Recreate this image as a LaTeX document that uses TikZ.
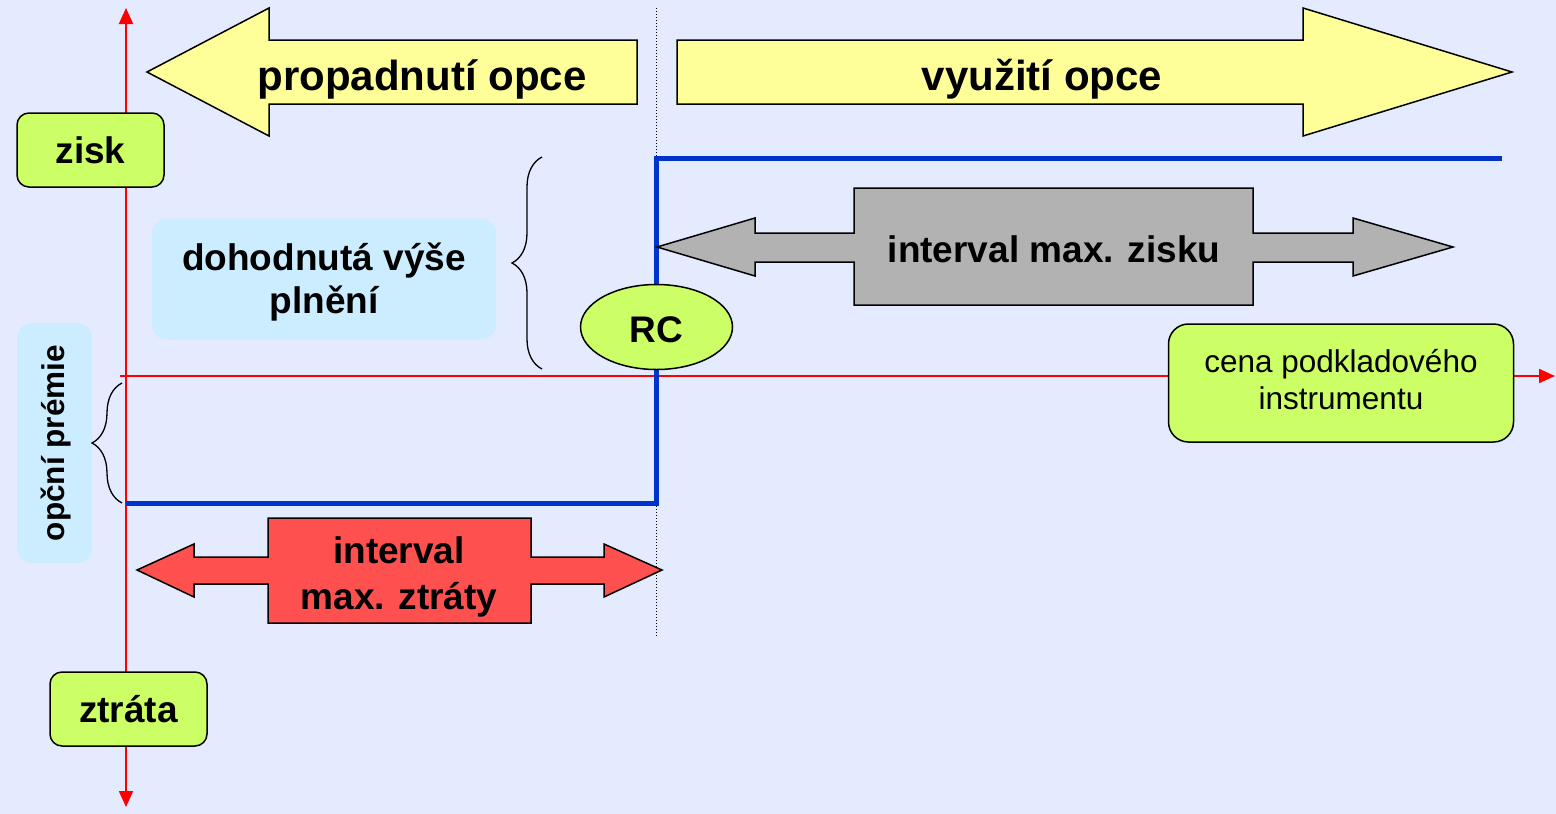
\documentclass[tikz,border=0pt]{standalone}
\usepackage{fontspec}
\setmainfont{Liberation Sans}
\usetikzlibrary{arrows.meta,shapes.geometric,decorations.pathreplacing}

\definecolor{bgblue}{RGB}{229,235,254}
\definecolor{paleyellow}{RGB}{255,255,153}
\definecolor{limegreen}{RGB}{204,255,102}
\definecolor{paleblue}{RGB}{204,236,255}
\definecolor{midgray}{RGB}{178,178,178}
\definecolor{lossred}{RGB}{255,80,80}
\definecolor{payoffblue}{RGB}{0,51,204}
\definecolor{axisred}{RGB}{255,0,0}

\tikzset{
  blockarrow/.style={draw=black, line width=1.5pt, line join=miter},
  axisline/.style={draw=axisred, line width=2pt, -{Triangle[length=16pt,width=14pt]}},
  greenbox/.style={draw=black, line width=1.5pt, fill=limegreen, rounded corners=12pt,
    inner sep=0pt, align=center},
  notebox/.style={fill=paleblue, rounded corners=15pt, inner sep=0pt, align=center},
  bigtxt/.style={font=\fontsize{42}{48}\selectfont\bfseries, inner sep=0pt},
  midtxt/.style={font=\fontsize{37}{46}\selectfont\bfseries, inner sep=0pt, align=center},
  smalltxt/.style={font=\fontsize{31.5}{37}\selectfont, inner sep=0pt, align=center},
  bracepath/.style={draw=black, line width=1.3pt,
    decorate, decoration={brace, amplitude=30pt, aspect=0.5}},
}

\begin{document}
\begin{tikzpicture}[x=1pt,y=-1pt]
  \useasboundingbox (0,0) rectangle (1556,814);
  \fill[bgblue] (0,0) rectangle (1556,814);

  % strike-price marker
  \coordinate (dtop) at (656,8);
  \coordinate (dbot) at (656,637);
  \draw[black, line width=1pt, dash pattern=on 1pt off 2pt] (dtop) -- (dbot);

  % axes
  \coordinate (origin) at (126,376);
  \coordinate (ytop) at (126,8);
  \coordinate (ybot) at (126,807);
  \coordinate (xleft) at (120,376);
  \coordinate (xright) at (1555,376);
  \draw[axisline] (origin) -- (ytop);
  \draw[axisline] (origin) -- (ybot);
  \draw[axisline] (xleft) -- (xright);

  % payoff of the option
  \coordinate (p0) at (126,503);
  \coordinate (p1) at (656,503);
  \coordinate (p2) at (656,158);
  \coordinate (p3) at (1502,158);
  \draw[payoffblue, line width=5pt, line join=miter] (p0) -- (p1) -- (p2) -- (p3);

  % yellow direction arrows
  \draw[blockarrow, fill=paleyellow]
    (147,72) -- (269,8) -- (269,40) -- (637,40) -- (637,104) -- (269,104) -- (269,136) -- cycle;
  \node[bigtxt] (lapse) at (422,79) {propadnutí opce};
  \draw[blockarrow, fill=paleyellow]
    (677,40) -- (1303,40) -- (1303,8) -- (1512,72) -- (1303,136) -- (1303,104) -- (677,104) -- cycle;
  \node[bigtxt] (exercise) at (1042,79) {využití opce};

  % interval of maximum profit
  \draw[blockarrow, fill=midgray]
    (657,247) -- (755,218) -- (755,233) -- (854,233) -- (854,188) -- (1253,188) -- (1253,233)
    -- (1353,233) -- (1353,218) -- (1453,247) -- (1353,276) -- (1353,262) -- (1253,262)
    -- (1253,305) -- (854,305) -- (854,262) -- (755,262) -- (755,276) -- cycle;
  \node[midtxt] (maxgain) at (1054,249) {interval max. zisku};

  % interval of maximum loss
  \draw[blockarrow, fill=lossred]
    (137,570) -- (194,544) -- (194,557) -- (268,557) -- (268,518) -- (531,518) -- (531,557)
    -- (604,557) -- (604,544) -- (662,570) -- (604,597) -- (604,584) -- (531,584)
    -- (531,623) -- (268,623) -- (268,584) -- (194,584) -- (194,597) -- cycle;
  \node[midtxt] (maxloss) at (399,577) {interval\\max. ztráty};

  % labels on the axes
  \node[greenbox, minimum width=147pt, minimum height=74pt, font=\fontsize{37}{44}\selectfont\bfseries]
    (zisk) at (90.5,150) {zisk};
  \node[greenbox, minimum width=157pt, minimum height=74pt, font=\fontsize{37}{44}\selectfont\bfseries]
    (ztrata) at (128.5,709) {ztráta};
  \node[greenbox, rounded corners=20pt, minimum width=345pt, minimum height=118pt]
    (cena) at (1341,383) {};
  \node[smalltxt] (cenatxt) at (1341,380) {cena podkladového\\instrumentu};

  % strike price
  \node[ellipse, draw=black, line width=1.5pt, fill=limegreen, minimum width=152pt,
    minimum height=85pt, inner sep=0pt] (rc) at (656.5,327) {};
  \node[inner sep=0pt, font=\fontsize{37}{44}\selectfont\bfseries] (rctxt) at (656.5,330) {RC};

  % explanatory notes with braces
  \node[notebox, minimum width=344pt, minimum height=121pt] (plneni) at (324,279) {};
  \node[midtxt, font=\fontsize{37}{43}\selectfont\bfseries] (plnenitxt) at (324,282)
    {dohodnutá výše\\plnění};
  \coordinate (b1s) at (542,369);
  \coordinate (b1e) at (542,157);
  \draw[bracepath] (b1s) -- (b1e);

  \node[notebox, minimum width=75pt, minimum height=240pt] (premie) at (54.5,443) {};
  \node[rotate=90, inner sep=0pt, font=\fontsize{31.5}{37}\selectfont\bfseries]
    (premietxt) at (56,443) {opční prémie};
  \coordinate (b2s) at (122,503);
  \coordinate (b2e) at (122,383);
  \draw[bracepath] (b2s) -- (b2e);
\end{tikzpicture}
\end{document}
